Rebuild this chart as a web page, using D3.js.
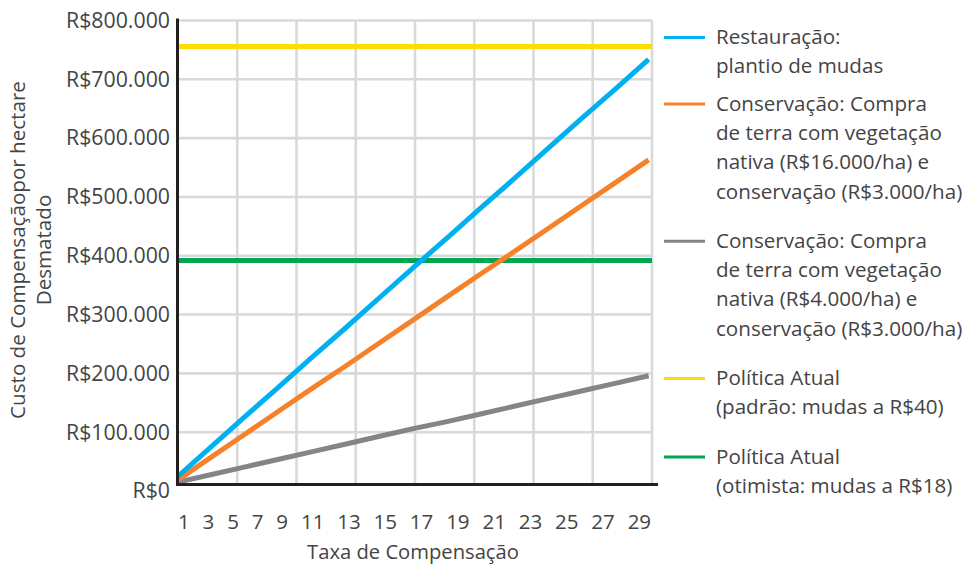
<!DOCTYPE html>
<html>
<head>
<meta charset="utf-8">
<script src="https://cdn.jsdelivr.net/npm/d3@7"></script>
<style>
  html, body { margin: 0; padding: 0; background: #fff; }
  svg { display: block; font-family: "Open Sans", "Noto Sans", sans-serif; }
</style>
</head>
<body>
<svg id="chart" width="967" height="566"></svg>
<script>
// Taxa de compensação (eixo X)
const rates = [1, 3, 5, 7, 9, 11, 13, 15, 17, 19, 21, 23, 25, 27, 29];
// Custo por hectare desmatado (R$)
const restauracao = [25000, 76000, 127000, 177000, 228000, 278000, 329000, 380000, 430000, 481000, 531000, 582000, 633000, 683000, 734000];
const conservacao16 = [19000, 58000, 97000, 136000, 175000, 213000, 252000, 291000, 330000, 369000, 407000, 446000, 485000, 524000, 563000];
const conservacao4 = [15000, 28000, 41000, 54000, 67000, 80000, 93000, 106000, 118000, 131000, 144000, 157000, 170000, 183000, 196000];
const politicaPadrao = 756000;
const politicaOtimista = 392000;

const yTicks = [0, 100000, 200000, 300000, 400000, 500000, 600000, 700000, 800000];
const xTickLabels = ["1", "3", "5", "7", "9", "11", "13", "15", "17", "19", "21", "23", "25", "27", "29"];

const legendEntries = [
  { color: "#00b0f0", lines: ["Restauração:", "plantio de mudas"] },
  { color: "#f5822a", lines: ["Conservação: Compra", "de terra com vegetação", "nativa (R$16.000/ha) e", "conservação (R$3.000/ha)"] },
  { color: "#848489", lines: ["Conservação: Compra", "de terra com vegetação", "nativa (R$4.000/ha) e", "conservação (R$3.000/ha)"] },
  { color: "#ffdd00", lines: ["Política Atual", "(padrão: mudas a R$40)"] },
  { color: "#00a650", lines: ["Política Atual", "(otimista: mudas a R$18)"] }
];

const svg = d3.select("#chart");
const textColor = "#444444";

const plot = { left: 178, right: 652, top: 20.5, zero: 491, base: 484.5 };

const x = d3.scaleLinear().domain([1, 29.2]).range([plot.left, plot.right]);
const y = d3.scaleLinear().domain([0, 800000]).range([plot.zero, plot.top]);

const fmtBR = v => "R$" + d3.format(",")(v).replace(/,/g, ".");

// grade
const grid = svg.append("g").attr("stroke", "#d9d9d9").attr("stroke-width", 2.6);
grid.selectAll("line.h").data(yTicks.filter(v => v > 0)).join("line")
  .attr("x1", plot.left).attr("x2", plot.right)
  .attr("y1", d => y(d)).attr("y2", d => y(d));
grid.selectAll("line.v").data(d3.range(1, 9)).join("line")
  .attr("x1", i => x(1 + i * 28.2 / 8)).attr("x2", i => x(1 + i * 28.2 / 8))
  .attr("y1", plot.top).attr("y2", plot.base);

// eixo Y
const yAxis = svg.append("g")
  .attr("transform", `translate(${plot.left},0)`)
  .call(d3.axisLeft(y).tickValues(yTicks).tickFormat(fmtBR).tickSize(0).tickPadding(8));
yAxis.select(".domain").remove();
yAxis.selectAll("text")
  .attr("fill", textColor).attr("font-size", 21.3).attr("font-weight", 400)
  .attr("font-family", "'Open Sans', sans-serif");

// séries
const line = d3.line().x(d => x(d[0])).y(d => y(d[1]));
const series = [
  { values: conservacao4, color: "#848489" },
  { values: conservacao16, color: "#f5822a" },
  { values: restauracao, color: "#00b0f0" }
];

svg.append("line")
  .attr("x1", x(1)).attr("x2", x(29.2))
  .attr("y1", y(politicaPadrao)).attr("y2", y(politicaPadrao))
  .attr("stroke", "#ffdd00").attr("stroke-width", 5);
svg.append("line")
  .attr("x1", x(1)).attr("x2", x(29.2))
  .attr("y1", y(politicaOtimista)).attr("y2", y(politicaOtimista))
  .attr("stroke", "#00a650").attr("stroke-width", 5);

svg.selectAll("path.serie").data(series).join("path")
  .attr("class", "serie")
  .attr("fill", "none")
  .attr("stroke", d => d.color)
  .attr("stroke-width", 5)
  .attr("d", d => line(rates.map((r, i) => [r, d.values[i]])));

// linhas dos eixos
svg.append("line")
  .attr("x1", plot.left - 1.5).attr("x2", 658)
  .attr("y1", plot.base).attr("y2", plot.base)
  .attr("stroke", "#231f20").attr("stroke-width", 3);
svg.append("line")
  .attr("x1", plot.left - 0.5).attr("x2", plot.left - 0.5)
  .attr("y1", 18.5).attr("y2", plot.base + 1.5)
  .attr("stroke", "#231f20").attr("stroke-width", 3);

// rótulos do eixo X, dispostos em sequência
const xLabels = svg.append("g")
  .attr("fill", textColor).attr("font-size", 20.5).attr("font-weight", 400);
let cursor = plot.left;
xTickLabels.forEach(lbl => {
  const t = xLabels.append("text").attr("x", cursor).attr("y", 529).text(lbl);
  cursor += t.node().getComputedTextLength() + 12.85;
});

// títulos dos eixos
svg.append("text")
  .attr("x", 413).attr("y", 559)
  .attr("text-anchor", "middle")
  .attr("fill", textColor).attr("font-size", 20.2).attr("font-weight", 400)
  .text("Taxa de Compensação");

const yTitle = svg.append("text")
  .attr("transform", "translate(25,250) rotate(-90)")
  .attr("text-anchor", "middle")
  .attr("fill", textColor).attr("font-size", 20.6).attr("font-weight", 400);
yTitle.append("tspan").attr("x", 0).attr("dy", 0).text("Custo de Compensaçãopor hectare");
yTitle.append("tspan").attr("x", 0).attr("dy", 26).text("Desmatado");

// legenda
const lineH = 29.3;
let ly = 37;
legendEntries.forEach((e, i) => {
  const g = svg.append("g");
  g.append("line")
    .attr("x1", 664).attr("x2", 705)
    .attr("y1", ly + 0.5).attr("y2", ly + 0.5)
    .attr("stroke", e.color).attr("stroke-width", 3);
  const t = g.append("text")
    .attr("fill", textColor).attr("font-size", 20.6).attr("font-weight", 400);
  e.lines.forEach((s, k) => {
    t.append("tspan").attr("x", 716).attr("y", ly + k * lineH + 7).text(s);
  });
  ly += e.lines.length * lineH + (i === 0 ? 8 : 20);
});
</script>
</body>
</html>
